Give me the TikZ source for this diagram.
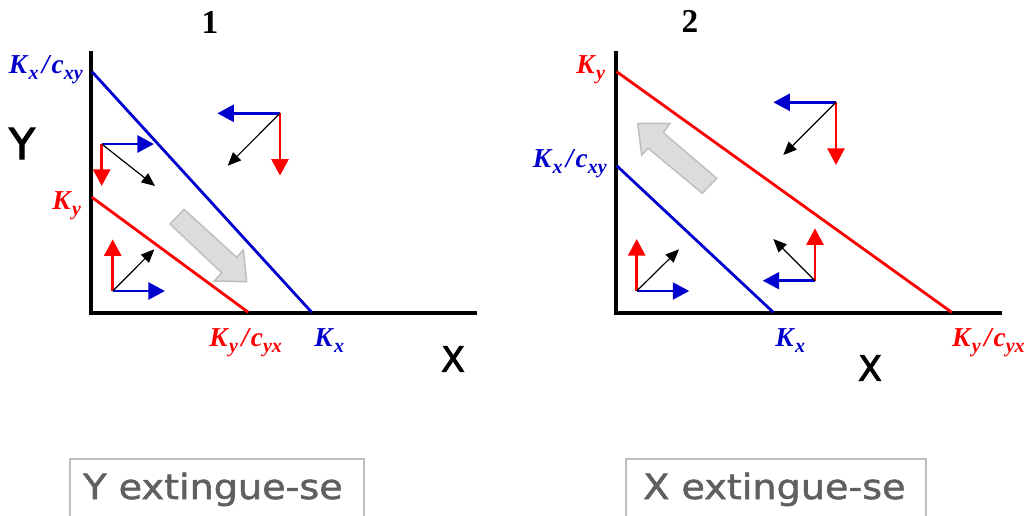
\documentclass[tikz,border=0pt]{standalone}
\usepackage{fontspec}
\setmainfont{Liberation Serif}
\newfontfamily\comicfont[FakeBold=2.5]{DejaVu Sans}
\newfontfamily\comictext[FakeBold=1.5]{DejaVu Sans}
\usetikzlibrary{arrows.meta}
\definecolor{kblue}{RGB}{0,0,204}
\definecolor{kred}{RGB}{255,0,0}
\definecolor{arrfill}{RGB}{220,220,220}
\definecolor{arrdraw}{RGB}{190,190,190}
\definecolor{boxtext}{RGB}{96,96,96}
\definecolor{boxdraw}{RGB}{190,190,190}
\newcommand{\bi}[1]{\textbf{\textit{#1}}}
\newcommand{\Klab}[2]{\bi{#1}\raisebox{-4.5pt}{\fontsize{15}{17}\selectfont\bi{#2}}}
\newcommand{\Kfrac}[4]{\Klab{#1}{#2}\hspace{2.5pt}\bi{/}\Klab{#3}{#4}}
\tikzset{
  axisline/.style={line width=2.5pt, line join=miter},
  isoline/.style={line width=2.1pt},
  vecc/.style={line width=2.2pt, -{Triangle[length=12.4pt,width=12.6pt]}},
  vecb/.style={line width=0.9pt, black, -{Triangle[length=10pt,width=8.5pt]}},
  bigarrow/.style={fill=arrfill, draw=arrdraw, line width=1.1pt, line join=miter},
  klabel/.style={inner sep=0pt, anchor=base west, font=\fontsize{20.5}{24}\selectfont},
  axlabel/.style={inner sep=0pt, font=\comicfont},
  title/.style={inner sep=0pt, font=\fontsize{25}{28}\selectfont\bfseries},
  resbox/.style={draw=boxdraw, line width=1.1pt},
  restext/.style={inner sep=0pt, anchor=base west, text=boxtext, font=\comictext\fontsize{26}{30}\selectfont}
}
\begin{document}
\begin{tikzpicture}[x=0.75pt, y=-0.75pt]
\useasboundingbox (0,0) rectangle (1028,515);
\clip (0,0) rectangle (1028,515);

% ---------------- Panel 1 ----------------
\node[title] (t1) at (210,22) {1};
\coordinate (o1) at (91,313);
\coordinate (y1top) at (91,51);
\coordinate (x1end) at (477,313);
\draw[axisline] (y1top) -- (o1) -- (x1end);

\coordinate (b1a) at (92,71.7);
\coordinate (b1b) at (311.7,312.3);
\coordinate (r1a) at (92,197.3);
\coordinate (r1b) at (248.3,312.3);
\draw[isoline, kblue] (b1a) -- (b1b);
\draw[isoline, kred] (r1a) -- (r1b);

\node[klabel, text=kblue, anchor=base east] (l1kxc) at (83,73) {\Kfrac{K}{x}{c}{xy}};
\node[klabel, text=kred] (l1ky) at (52,209) {\Klab{K}{y}};
\node[klabel, text=kred] (l1kyc) at (209,346) {\Kfrac{K}{y}{c}{yx}};
\node[klabel, text=kblue] (l1kx) at (314,346) {\Klab{K}{x}};
\node[axlabel, font=\comicfont\fontsize{32}{36}\selectfont] (ly1) at (22,143.5) {Y};
\node[axlabel, font=\comicfont\fontsize{26}{30}\selectfont] (lx1) at (453,359) {X};

% vector group a
\coordinate (p1a) at (112.7,291);
\coordinate (p1aR) at (112.7,239.3);
\coordinate (p1aB) at (165,291);
\coordinate (p1aK) at (154.3,249.3);
\draw[vecc, kred] (p1a) -- (p1aR);
\draw[vecc, kblue] (p1a) -- (p1aB);
\draw[vecb] (p1a) -- (p1aK);
% vector group b
\coordinate (p1b) at (101.7,144);
\coordinate (p1bB) at (154,144);
\coordinate (p1bR) at (101.7,186);
\coordinate (p1bK) at (155,186);
\draw[vecc, kblue] (p1b) -- (p1bB);
\draw[vecc, kred] (p1b) -- (p1bR);
\draw[vecb] (p1b) -- (p1bK);
% vector group c
\coordinate (p1c) at (280,113.3);
\coordinate (p1cB) at (217.3,113.3);
\coordinate (p1cR) at (280,175.7);
\coordinate (p1cK) at (227.7,165.7);
\draw[vecc, kblue] (p1c) -- (p1cB);
\draw[vecc, kred] (p1c) -- (p1cR);
\draw[vecb] (p1c) -- (p1cK);

% gray arrow 1
\draw[bigarrow] (170,224) -- (221.7,272.7) -- (214.3,281) -- (246.7,281.7)
  -- (243.3,250) -- (236.7,257.3) -- (184,209.3) -- cycle;

% ---------------- Panel 2 ----------------
\node[title] (t2) at (690,21) {2};
\coordinate (o2) at (616,313);
\coordinate (y2top) at (616,51);
\coordinate (x2end) at (1002,313);
\draw[axisline] (y2top) -- (o2) -- (x2end);

\coordinate (r2a) at (616.7,71.7);
\coordinate (r2b) at (951.7,312.3);
\coordinate (b2a) at (616.7,165.7);
\coordinate (b2b) at (773.3,312.3);
\draw[isoline, kred] (r2a) -- (r2b);
\draw[isoline, kblue] (b2a) -- (b2b);

\node[klabel, text=kred] (l2ky) at (576,73) {\Klab{K}{y}};
\node[klabel, text=kblue, anchor=base east] (l2kxc) at (607,167) {\Kfrac{K}{x}{c}{xy}};
\node[klabel, text=kblue] (l2kx) at (775,346) {\Klab{K}{x}};
\node[klabel, text=kred, anchor=base east] (l2kyc) at (1025,346) {\Kfrac{K}{y}{c}{yx}};
\node[axlabel, font=\comicfont\fontsize{26}{30}\selectfont] (lx2) at (870,368) {X};

% vector group a
\coordinate (p2a) at (636.7,291);
\coordinate (p2aR) at (636.7,239);
\coordinate (p2aB) at (689.3,291);
\coordinate (p2aK) at (679,249.3);
\draw[vecc, kred] (p2a) -- (p2aR);
\draw[vecc, kblue] (p2a) -- (p2aB);
\draw[vecb] (p2a) -- (p2aK);
% vector group b
\coordinate (p2b) at (815,280.7);
\coordinate (p2bB) at (762.7,280.7);
\coordinate (p2bR) at (815,228.3);
\coordinate (p2bK) at (773.3,239);
\draw[vecc, kblue] (p2b) -- (p2bB);
\draw[vecc, kred] (p2b) -- (p2bR);
\draw[vecb] (p2b) -- (p2bK);
% vector group c
\coordinate (p2c) at (836,102.3);
\coordinate (p2cB) at (773.3,102.3);
\coordinate (p2cR) at (836,165);
\coordinate (p2cK) at (783.3,155);
\draw[vecc, kblue] (p2c) -- (p2cB);
\draw[vecc, kred] (p2c) -- (p2cR);
\draw[vecb] (p2c) -- (p2cK);

% gray arrow 2
\draw[bigarrow] (637.7,123.3) -- (670,123.3) -- (663.3,132.7) -- (716.7,178.3)
  -- (702.3,193.3) -- (648.3,148.3) -- (641.7,155) -- cycle;

% ---------------- Result boxes ----------------
\draw[resbox] (70,459) rectangle (364,530);
\node[restext] (res1) at (83,499) {\scalebox{1.1}[1]{Y extingue-se}};
\draw[resbox] (626,459) rectangle (926,530);
\node[restext] (res2) at (643,499) {\scalebox{1.1}[1]{X extingue-se}};
\end{tikzpicture}
\end{document}
